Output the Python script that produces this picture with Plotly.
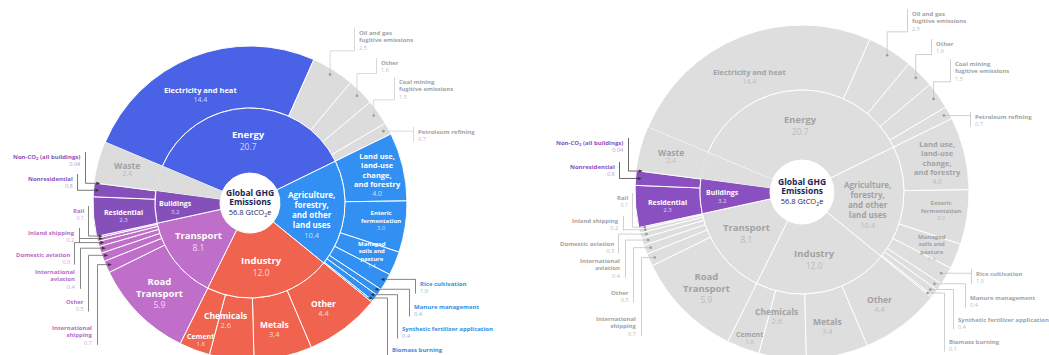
import math
import plotly.graph_objects as go

# ---- data: global GHG emissions by sector and subsector (GtCO2e) ----
sector_ids = ["energy", "afolu", "industry", "transport", "buildings", "waste"]
sector_names = ["Energy", "Agriculture,<br>forestry,<br>and other<br>land uses",
                "Industry", "Transport", "Buildings", "Waste"]
sector_totals = [20.7, 10.4, 12.0, 8.1, 3.2, 2.4]

energy_names = ["Electricity and heat", "Oil and gas<br>fugitive emissions", "Other",
                "Coal mining<br>fugitive emissions", "Petroleum refining"]
energy_values = [14.4, 2.5, 1.6, 1.5, 0.7]

afolu_names = ["Land use,<br>land-use<br>change,<br>and forestry", "Enteric<br>fermentation",
               "Managed<br>soils and<br>pasture", "Rice cultivation", "Manure management",
               "Synthetic fertilizer application", "Biomass burning"]
afolu_values = [4.0, 3.0, 1.4, 1.0, 0.4, 0.4, 0.1]

industry_names = ["Other", "Metals", "Chemicals", "Cement"]
industry_values = [4.4, 3.4, 2.6, 1.8]

transport_names = ["Road<br>Transport", "International<br>shipping", "Other",
                   "International<br>aviation", "Domestic aviation", "Inland shipping", "Rail"]
transport_values = [5.9, 0.7, 0.5, 0.4, 0.3, 0.2, 0.1]

buildings_names = ["Residential", "Nonresidential", "Non-CO<sub>2</sub> (all buildings)"]
buildings_values = [2.3, 0.8, 0.04]

waste_names = ["Waste"]
waste_values = [2.4]

center_title = "Global GHG<br>Emissions"
center_total = "56.8 GtCO<sub>2</sub>e"

groups = [
    ("energy", energy_names, energy_values),
    ("afolu", afolu_names, afolu_values),
    ("industry", industry_names, industry_values),
    ("transport", transport_names, transport_values),
    ("buildings", buildings_names, buildings_values),
    ("waste", waste_names, waste_values),
]

# ---- styling ----
W, H = 1049, 362
ROT = -67.2
FONT = "Open Sans"
NAVY = "#1c2456"
GRAY = "#dcdcdc"
sector_colors = {"energy": "#4a62e5", "afolu": "#3190f2", "industry": "#f0634f",
                 "transport": "#bf6fc9", "buildings": "#8650ba", "waste": GRAY}
focus_color = "#8a4fc0"

# inner labels: radius fraction, angle shift, name size, value size, base size
inner_spec = {
    "energy": (0.40, 0, 9.5, 8.5, 9),
    "afolu": (0.40, -4, 8, 7.5, 7.7),
    "industry": (0.41, -1.5, 9.5, 8.5, 9),
    "transport": (0.41, -1.5, 9.5, 8.5, 9.5),
    "buildings": (0.475, 1, 7, 6, 6),
}
outer_spec = {
    ("energy", 0): (0.76, 3, 7.5, 7, 7.2),
    ("afolu", 0): (0.83, -1, 7.5, 7, 7.2),
    ("afolu", 1): (0.84, 1, 6, 5.8, 5.8),
    ("afolu", 2): (0.845, -0.5, 6, 5.6, 5.6),
    ("industry", 0): (0.815, -2, 8.5, 7.5, 7.2),
    ("industry", 1): (0.82, -1.3, 8.5, 7.5, 7.2),
    ("industry", 2): (0.76, -5, 8.5, 7.5, 7.2),
    ("industry", 3): (0.93, 1, 7, 6, 5.3),
    ("transport", 0): (0.81, 0, 9.5, 8.5, 9),
    ("buildings", 0): (0.81, 1, 7, 6, 5.6),
    ("waste", 0): (0.815, 0, 8.5, 7, 5.6),
}

left_callouts = {
    ("energy", 1): (357, 27, "l", "vhv"),
    ("energy", 2): (379, 57, "l", "vhv"),
    ("energy", 3): (397, 76, "l", "vhv"),
    ("energy", 4): (416, 126, "l", "hv"),
    ("afolu", 3): (418, 278, "l", "hv"),
    ("afolu", 4): (412, 301, "l", "hv"),
    ("afolu", 5): (400, 323, "l", "hv"),
    ("afolu", 6): (390, 344, "l", "hv"),
    ("buildings", 2): (83, 151, "r", "hv"),
    ("buildings", 1): (75, 173, "r", "hv"),
    ("transport", 6): (86, 205, "r", "hv"),
    ("transport", 5): (77, 227, "r", "hv"),
    ("transport", 4): (72, 249, "r", "hv"),
    ("transport", 3): (78, 266, "r", "hv"),
    ("transport", 2): (86, 296, "r", "hv"),
    ("transport", 1): (95, 322, "r", "hv"),
}
right_callouts = {
    ("energy", 1): (910, 8, "l", "vhv"),
    ("energy", 2): (934, 38, "l", "vhv"),
    ("energy", 3): (953, 58, "l", "vhv"),
    ("energy", 4): (973, 111, "l", "hv"),
    ("afolu", 3): (974, 268, "l", "hv"),
    ("afolu", 4): (968, 292, "l", "hv"),
    ("afolu", 5): (956, 314, "l", "hv"),
    ("afolu", 6): (947, 336, "l", "hv"),
    ("buildings", 2): (626, 137, "r", "hv"),
    ("buildings", 1): (617, 161, "r", "hv"),
    ("transport", 6): (630, 192, "r", "hv"),
    ("transport", 5): (621, 215, "r", "hv"),
    ("transport", 4): (616, 238, "r", "hv"),
    ("transport", 3): (623, 255, "r", "hv"),
    ("transport", 2): (631, 287, "r", "hv"),
    ("transport", 1): (639, 313, "r", "hv"),
}

full_callout_text = {"energy": ("#a3a3a3", "#bdbdbd"), "afolu": ("#3a8ce0", "#7db6ee"),
                     "transport": ("#b86bc5", "#d4a6dc"), "buildings": ("#8a52bc", "#b898d8")}
full_callout_line = {"energy": "#cfcfcf", "afolu": "#666666",
                     "transport": "#666666", "buildings": "#555555"}

charts = [
    dict(cx=250, cy=203, r=157, rm=95, rh=30, focus=None, callouts=left_callouts),
    dict(cx=802, cy=192, r=167, rm=102, rh=32, focus="buildings", callouts=right_callouts),
]


def fmt(v):
    return f"{v:.2f}" if v < 0.1 else f"{v:.1f}"


def paper(x, y):
    return x / W, 1 - y / H


def polar(ch, r, ang):
    a = math.radians(ang)
    return ch["cx"] + r * math.cos(a), ch["cy"] - r * math.sin(a)


total = sum(sum(v) for _, _, v in groups)
start = 90 - ROT

fig = go.Figure()
annotations = []
shapes = []


def add_label(x, y, name, value, nc, vc, ns, vs, base):
    px, py = paper(x, y)
    annotations.append(dict(
        x=px, y=py, xref="paper", yref="paper", showarrow=False,
        xanchor="center", yanchor="middle", align="center",
        text=f"<span style='font-size:{ns}px'><b>{name}</b></span><br>"
             f"<span style='font-size:{vs}px;color:{vc}'>{fmt(value)}</span>",
        font=dict(family=FONT, size=base, color=nc)))


for ch in charts:
    focus = ch["focus"]
    inner_vals, inner_cols, inner_lw = [], [], []
    outer_vals, outer_cols, outer_lw, outer_ids = [], [], [], []
    cum = 0.0
    for k, (sid, names, vals) in enumerate(groups):
        s0 = cum
        if focus is None:
            scol = sector_colors[sid]
        else:
            scol = focus_color if sid == focus else "#dedede"
        for i, (n, v) in enumerate(zip(names, vals)):
            if focus is None and sid == "energy" and i > 0:
                col = GRAY
            else:
                col = scol
            outer_vals.append(v)
            outer_cols.append(col)
            outer_lw.append(0 if sid == "waste" else 1)
            outer_ids.append(f"{sid}-{i}")
            mid = start - 360 * (cum + v / 2) / total
            cum += v
            light = col in (GRAY, "#dedede")
            nc = "#a2a2a2" if light else "white"
            vcol = "#bbbbbb" if light else "rgba(255,255,255,0.75)"
            if (sid, i) in outer_spec:
                rf, da, ns, vs, base = outer_spec[(sid, i)]
                x, y = polar(ch, ch["r"] * rf, mid + da)
                add_label(x, y, n, v, nc, vcol, ns, vs, base)
            elif (sid, i) in ch["callouts"]:
                tx, ty, side, style = ch["callouts"][(sid, i)]
                if focus is None:
                    tcol, tvcol = full_callout_text[sid]
                    lcol = full_callout_line[sid]
                    arrow = sid != "energy"
                elif sid == focus:
                    tcol, tvcol, lcol, arrow = focus_color, "#b898d8", "#444444", True
                else:
                    tcol, tvcol, lcol, arrow = "#a3a3a3", "#bdbdbd", "#c4c4c4", False
                base = 5.6
                nlines = n.count("<br>") + 2
                bottom = ty + nlines * 1.3 * base + 1
                px, py = paper(tx, ty)
                annotations.append(dict(
                    x=px, y=py, xref="paper", yref="paper", showarrow=False,
                    xanchor="left" if side == "l" else "right", yanchor="top",
                    align="left" if side == "l" else "right",
                    text=f"<span style='font-size:6px'><b>{n}</b></span><br>"
                         f"<span style='color:{tvcol}'>{fmt(v)}</span>",
                    font=dict(family=FONT, size=base, color=tcol)))
                bx = tx - 2.5 if side == "l" else tx + 2.5
                gx, gy = polar(ch, ch["r"] * 0.965, mid)
                if style == "hv":
                    pts = [(bx, min(ty + 1, gy)), (bx, max(bottom, gy))]
                    path = "M{},{} L{},{} M{},{} L{},{}".format(
                        *paper(*pts[0]), *paper(*pts[1]), *paper(bx, gy), *paper(gx, gy))
                    d = 1 if gx > bx else -1
                else:
                    ey = bottom + 1
                    path = "M{},{} L{},{} L{},{} L{},{}".format(
                        *paper(bx, ty + 1), *paper(bx, ey), *paper(gx, ey), *paper(gx, gy))
                    d = 0
                shapes.append(dict(type="path", xref="paper", yref="paper", path=path,
                                   line=dict(color=lcol, width=0.8)))
                if arrow and d != 0:
                    tri = "M{},{} L{},{} L{},{} Z".format(
                        *paper(gx, gy), *paper(gx - 3.5 * d, gy - 1.6), *paper(gx - 3.5 * d, gy + 1.6))
                    shapes.append(dict(type="path", xref="paper", yref="paper", path=tri,
                                       fillcolor="#333333", line=dict(width=0)))
                else:
                    x0, y0 = paper(gx - 1.3, gy + 1.3)
                    x1, y1 = paper(gx + 1.3, gy - 1.3)
                    shapes.append(dict(type="circle", xref="paper", yref="paper",
                                       x0=x0, y0=y0, x1=x1, y1=y1,
                                       fillcolor="#9a9a9a", line=dict(width=0)))
        inner_vals.append(cum - s0)
        inner_cols.append(scol)
        inner_lw.append(0 if sid == "waste" else 1)
        if sid in inner_spec:
            rf, da, ns, vs, base = inner_spec[sid]
            mid = start - 360 * (s0 + (cum - s0) / 2) / total
            x, y = polar(ch, ch["r"] * rf, mid + da)
            light = scol in (GRAY, "#dedede")
            nc = "#a2a2a2" if light else "white"
            vcol = "#bbbbbb" if light else "rgba(255,255,255,0.75)"
            add_label(x, y, sector_names[k], sector_totals[k], nc, vcol, ns, vs, base)

    cx, cy, r, rm = ch["cx"], ch["cy"], ch["r"], ch["rm"]
    fig.add_trace(go.Pie(
        values=outer_vals, labels=outer_ids, hole=rm / r, sort=False,
        direction="clockwise", rotation=ROT, textinfo="none", hoverinfo="skip",
        showlegend=False,
        marker=dict(colors=outer_cols, line=dict(color="white", width=outer_lw)),
        domain=dict(x=[(cx - r) / W, (cx + r) / W], y=[1 - (cy + r) / H, 1 - (cy - r) / H]),
    ))
    fig.add_trace(go.Pie(
        values=inner_vals, labels=sector_ids, hole=ch["rh"] / rm, sort=False,
        direction="clockwise", rotation=ROT, textinfo="none", hoverinfo="skip",
        showlegend=False,
        marker=dict(colors=inner_cols, line=dict(color="white", width=inner_lw)),
        domain=dict(x=[(cx - rm) / W, (cx + rm) / W], y=[1 - (cy + rm) / H, 1 - (cy - rm) / H]),
    ))

    px, py = paper(cx, cy)
    annotations.append(dict(
        x=px, y=py, xref="paper", yref="paper", showarrow=False,
        xanchor="center", yanchor="middle", align="center",
        text=f"<span style='font-size:8.5px'><b>{center_title}</b></span><br>"
             f"<span style='font-size:7.5px'>{center_total}</span>",
        font=dict(family=FONT, size=7.3, color=NAVY)))

fig.update_layout(
    width=W, height=H,
    margin=dict(l=0, r=0, t=0, b=0),
    paper_bgcolor="white", plot_bgcolor="white",
    showlegend=False,
    annotations=annotations,
    shapes=shapes,
)

fig.write_html(
    "out.html",
    config={"displayModeBar": False},
    post_script="document.body.style.margin='0';"
                "document.documentElement.style.overflow='hidden';"
                "document.body.style.overflow='hidden';",
)
